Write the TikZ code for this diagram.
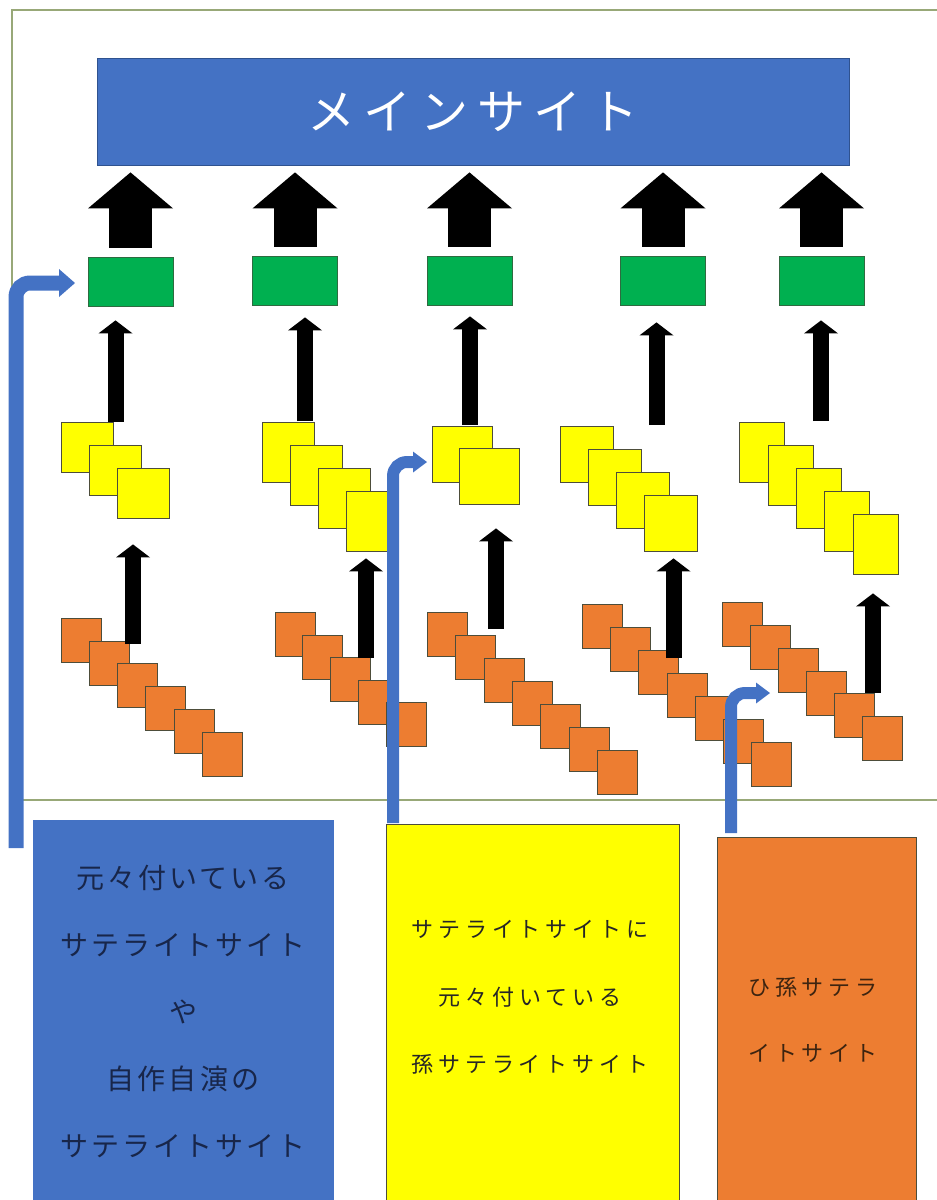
\documentclass[tikz,border=0pt]{standalone}
\usepackage{fontspec}
\newfontfamily\jpmain{Noto Sans CJK JP}[LetterSpace=18]
\newfontfamily\jpleg{Noto Sans CJK JP}[LetterSpace=11]
\newfontfamily\jpsmall{Noto Sans CJK JP}[LetterSpace=22]
\usetikzlibrary{arrows.meta, positioning, calc}

\definecolor{offblue}{HTML}{4472C4}
\definecolor{offblueline}{HTML}{2F528F}
\definecolor{offgreen}{HTML}{00B050}
\definecolor{offgreenline}{HTML}{2E6B40}
\definecolor{offorange}{HTML}{ED7D31}
\definecolor{offyellow}{HTML}{FFFF00}
\definecolor{sqline}{HTML}{4D4D3A}
\definecolor{frameline}{HTML}{98A878}
\definecolor{navytext}{HTML}{18264A}
\definecolor{browntext}{HTML}{3D2410}

\begin{document}
\begin{tikzpicture}[
  x=1pt, y=-1pt,
  mainbox/.style = {draw=offblueline, fill=offblue, line width=0.8pt,
                    minimum width=752pt, minimum height=107pt, inner sep=0pt},
  greenbox/.style = {draw=offgreenline, fill=offgreen, line width=0.8pt,
                     minimum width=85pt, minimum height=49pt, inner sep=0pt},
  ysq/.style = {draw=sqline, fill=offyellow, line width=0.8pt, inner sep=0pt},
  osq/.style = {draw=sqline, fill=offorange, line width=0.8pt,
                minimum width=40pt, minimum height=44pt, inner sep=0pt},
  legbox/.style = {draw=sqline, line width=0.8pt, inner sep=0pt},
  bigarrow/.style = {line width=43pt, shorten >=7pt,
                     -{Triangle[width=85pt, length=36pt, line width=0pt]}},
  arrow/.style = {line width=16pt,
                  -{Triangle[width=34pt, length=13pt, line width=0pt]}},
  bluearrow/.style = {draw=offblue, line width=12pt, rounded corners=14pt,
                      -{Triangle[width=21pt, length=14pt, line width=0pt]}}
]
\useasboundingbox (0,0) rectangle (937,1200);

% Frame round the upper part
\draw[frameline, line width=1.3pt] (937,10) -- (12,10) -- (12,800) -- (937,800);

% Main site
\node[mainbox, text=white, font=\jpmain\fontsize{48}{52}\selectfont] (main) at (473,111.5) {メインサイト};

% Satellite sites (green)
\node[greenbox] (g1) at (130.5,281.5) {};
\node[greenbox] (g2) at (295,280.5) {};
\node[greenbox] (g3) at (469.5,280.5) {};
\node[greenbox] (g4) at (663,280.5) {};
\node[greenbox] (g5) at (821.5,280.5) {};

% Block arrows up to the main site
\draw[bigarrow] ([yshift=9pt]g1.north) -- (g1.north |- main.south);
\draw[bigarrow] ([yshift=9pt]g2.north) -- (g2.north |- main.south);
\draw[bigarrow] ([yshift=9pt]g3.north) -- (g3.north |- main.south);
\draw[bigarrow] ([yshift=9pt]g4.north) -- (g4.north |- main.south);
\draw[bigarrow] ([yshift=9pt]g5.north) -- (g5.north |- main.south);

% Grandchild sites (yellow stacks)
\foreach \i in {0,1,2}
  \node[ysq, minimum width=52pt, minimum height=50pt] (y1-\i) at (87+28*\i,447+23*\i) {};
\foreach \i in {0,...,3}
  \node[ysq, minimum width=52pt, minimum height=60pt] (y2-\i) at (288.5+28*\i,452+23*\i) {};
\foreach \i in {0,1}
  \node[ysq, minimum width=60pt, minimum height=56pt] (y3-\i) at (462+27*\i,454+22*\i) {};
\foreach \i in {0,...,3}
  \node[ysq, minimum width=53pt, minimum height=56pt] (y4-\i) at (586.5+28*\i,454+23*\i) {};
\foreach \i in {0,...,4}
  \node[ysq, minimum width=45pt, minimum height=60pt] (y5-\i) at (762+28.4*\i,452+23*\i) {};

% Arrows yellow -> green
\coordinate (ua1) at (115.5,422);
\coordinate (ua2) at (305,421);
\coordinate (ua3) at (470,425);
\coordinate (ua4) at (656.5,425);
\coordinate (ua5) at (821,421);
\draw[arrow, shorten >=14pt] (ua1) -- (ua1 |- g1.south);
\draw[arrow, shorten >=12pt] (ua2) -- (ua2 |- g2.south);
\draw[arrow, shorten >=11pt] (ua3) -- (ua3 |- g3.south);
\draw[arrow, shorten >=17pt] (ua4) -- (ua4 |- g4.south);
\draw[arrow, shorten >=15pt] (ua5) -- (ua5 |- g5.south);

% Great-grandchild sites (orange stacks)
\foreach \i in {0,...,5}
  \node[osq] (o1-\i) at (81.5+28.1*\i,640+22.9*\i) {};
\foreach \i in {0,...,4}
  \node[osq] (o2-\i) at (295+27.75*\i,634.5+22.5*\i) {};
\foreach \i in {0,...,6}
  \node[osq] (o3-\i) at (447.5+28.3*\i,634.5+22.9*\i) {};
\foreach \i in {0,...,6}
  \node[osq] (o4-\i) at (602+28.3*\i,626+23.1*\i) {};
\foreach \i in {0,...,5}
  \node[osq] (o5-\i) at (742.5+27.9*\i,624.5+22.8*\i) {};

% Arrows orange -> yellow
\coordinate (la1) at (133,644);
\coordinate (la2) at (366,658);
\coordinate (la3) at (496,629);
\coordinate (la4) at (673.5,658);
\coordinate (la5) at (873,693);
\draw[arrow, shorten >=26pt] (la1) -- (la1 |- y1-2.south);
\draw[arrow, shorten >=7pt] (la2) -- (la2 |- y2-3.south);
\draw[arrow, shorten >=24pt] (la3) -- (la3 |- y3-1.south);
\draw[arrow, shorten >=7pt] (la4) -- (la4 |- y4-3.south);
\draw[arrow, shorten >=19pt] (la5) -- (la5 |- y5-4.south);

% Bent blue arrows from the legend
\coordinate (lbase) at (16,848);
\coordinate (ltip) at (75,283);
\coordinate (mbase) at (393,823);
\coordinate (mtip) at (427,462);
\coordinate (rbase) at (731,833);
\coordinate (rtip) at (770,693);
\draw[bluearrow, line width=15pt, -{Triangle[width=28pt, length=16pt, line width=0pt]}] (lbase) |- (ltip);
\draw[bluearrow] (mbase) |- (mtip);
\draw[bluearrow] (rbase) |- (rtip);

% Legend boxes
\node[legbox, draw=offblue, fill=offblue, minimum width=300pt, minimum height=385pt] (leg1) at (183,1012.5) {};
\node[legbox, fill=offyellow, minimum width=293pt, minimum height=385pt] (leg2) at (532.5,1016.5) {};
\node[legbox, fill=offorange, minimum width=199pt, minimum height=372pt] (leg3) at (816.5,1023) {};

\node[align=center, text=navytext, font=\jpleg\fontsize{28}{67}\selectfont] (leg1txt) at (183,1011.5)
  {元々付いている\\サテライトサイト\\や\\自作自演の\\サテライトサイト};
\node[align=center, text=black!85, font=\jpsmall\fontsize{22}{67.5}\selectfont] (leg2txt) at (530,997.5)
  {サテライトサイトに\\元々付いている\\孫サテライトサイト};
\node[align=center, text=browntext, font=\jpsmall\fontsize{22}{66}\selectfont] (leg3txt) at (813,1020)
  {ひ孫サテラ\\イトサイト};

\end{tikzpicture}
\end{document}
